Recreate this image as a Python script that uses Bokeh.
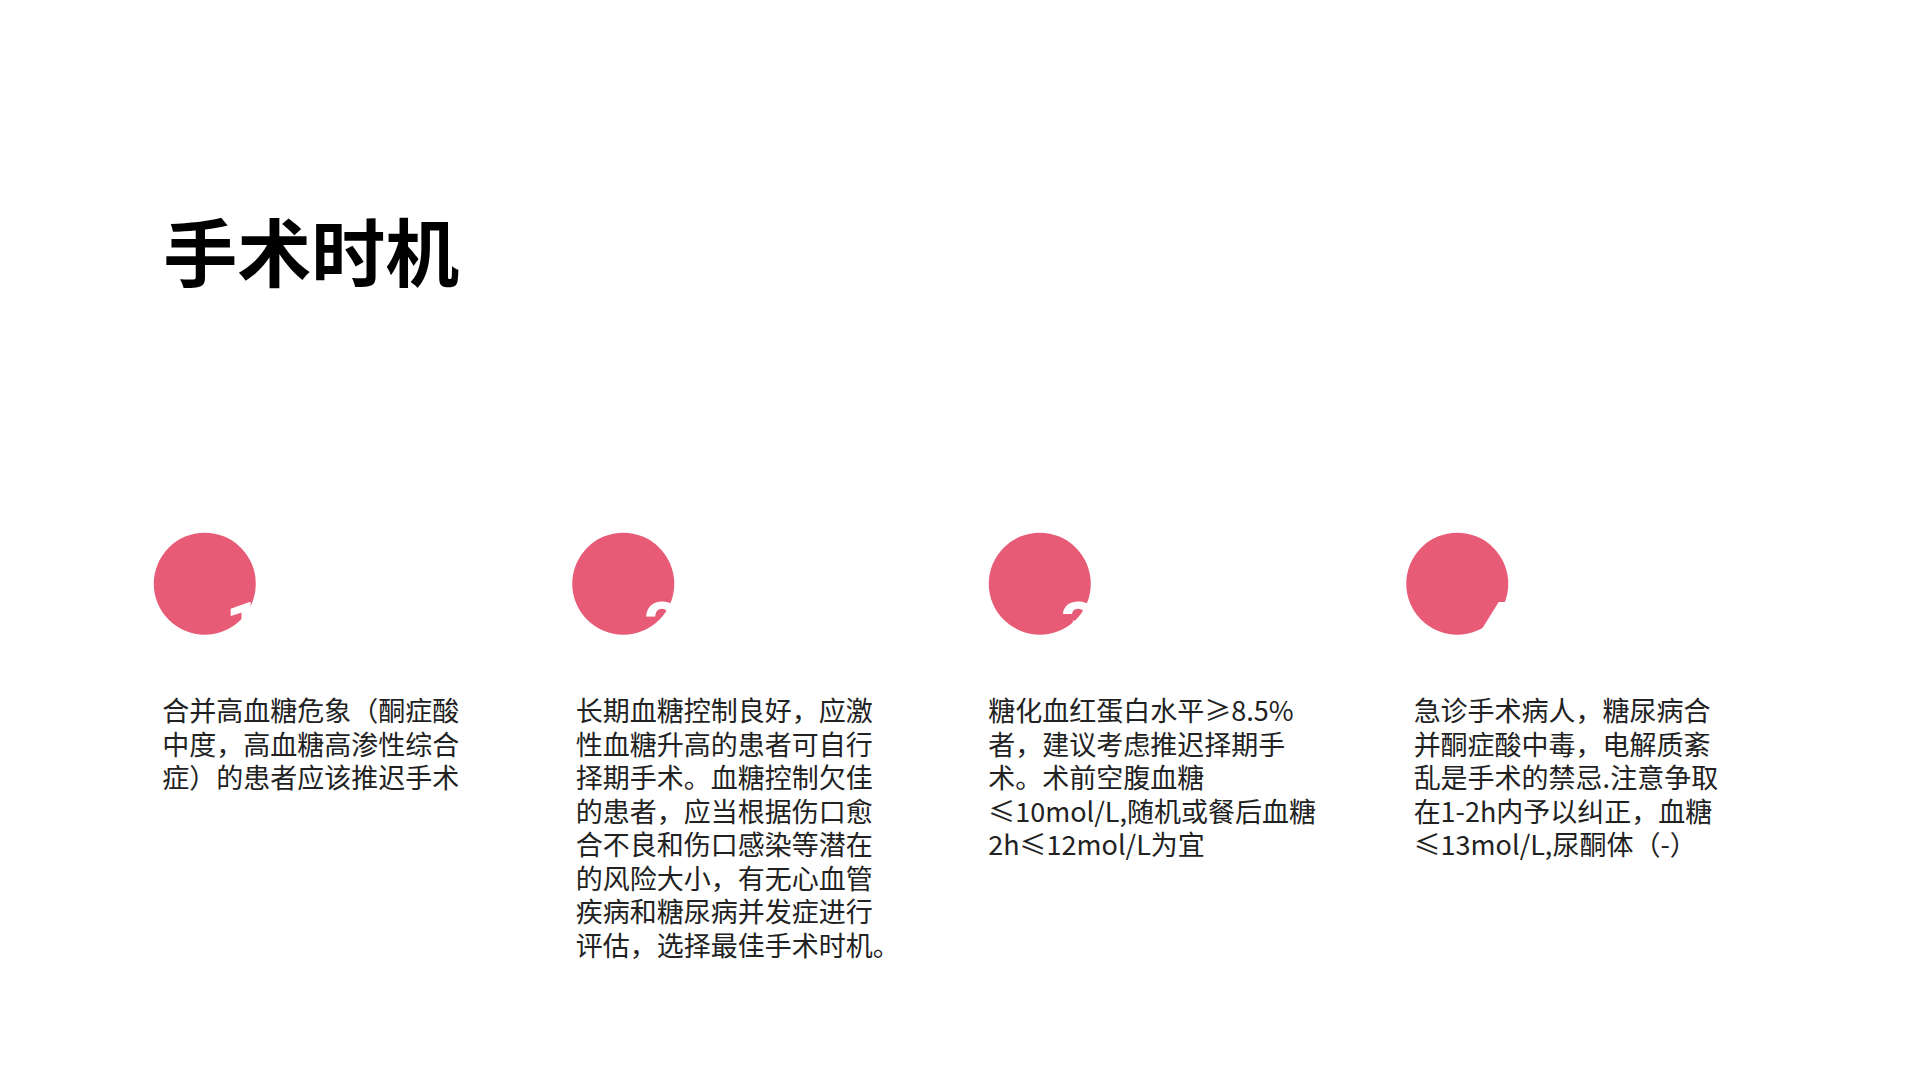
from bokeh.plotting import figure
from bokeh.core.properties import value
from bokeh.embed import file_html
from bokeh.resources import INLINE

title = "手术时机"
numbers = ["1", "2", "3", "4"]
circle_x = [206, 628, 1048, 1469]
text_x = [163, 580, 996, 1425]
paragraphs = [
    ["合并高血糖危象（酮症酸", "中度，高血糖高渗性综合", "症）的患者应该推迟手术"],
    ["长期血糖控制良好，应激", "性血糖升高的患者可自行", "择期手术。血糖控制欠佳",
     "的患者，应当根据伤口愈", "合不良和伤口感染等潜在", "的风险大小，有无心血管",
     "疾病和糖尿病并发症进行", "评估，选择最佳手术时机。"],
    ["糖化血红蛋白水平≥8.5%", "者，建议考虑推迟择期手", "术。术前空腹血糖",
     "≤10mol/L,随机或餐后血糖", "2h≤12mol/L为宜"],
    ["急诊手术病人，糖尿病合", "并酮症酸中毒，电解质紊", "乱是手术的禁忌.注意争取",
     "在1-2h内予以纠正，血糖", "≤13mol/L,尿酮体（-）"],
]

FONT = "Noto Sans CJK SC"
PINK = "#E85B76"

p = figure(width=1904, height=1064, x_range=(0, 1920), y_range=(1080, 0),
           output_backend="svg", toolbar_location=None, min_border=0)
p.axis.visible = False
p.grid.visible = False
p.outline_line_color = None
p.background_fill_color = "white"

p.text(x=[164], y=[252], text=[title], text_font=value(FONT), text_font_size="74px",
       text_font_style="bold", text_color="black", text_baseline="middle")

p.scatter(x=circle_x, y=[592] * 4, size=102, color=PINK, line_color=None)
p.text(x=[cx + 21 for cx in circle_x], y=[634] * 4, text=numbers,
       text_font=value("Roboto"), text_font_size="64px", text_font_style="bold",
       text_color="white", text_baseline="alphabetic")

xs, ys, lines = [], [], []
for tx, para in zip(text_x, paragraphs):
    for i, line in enumerate(para):
        xs.append(tx)
        ys.append(720 + i * 34)
        lines.append(line)
p.text(x=xs, y=ys, text=lines, text_font=value(FONT), text_font_size="27px",
       text_color="#222222", text_baseline="middle")

open("out.html", "w").write(file_html(p, INLINE))
